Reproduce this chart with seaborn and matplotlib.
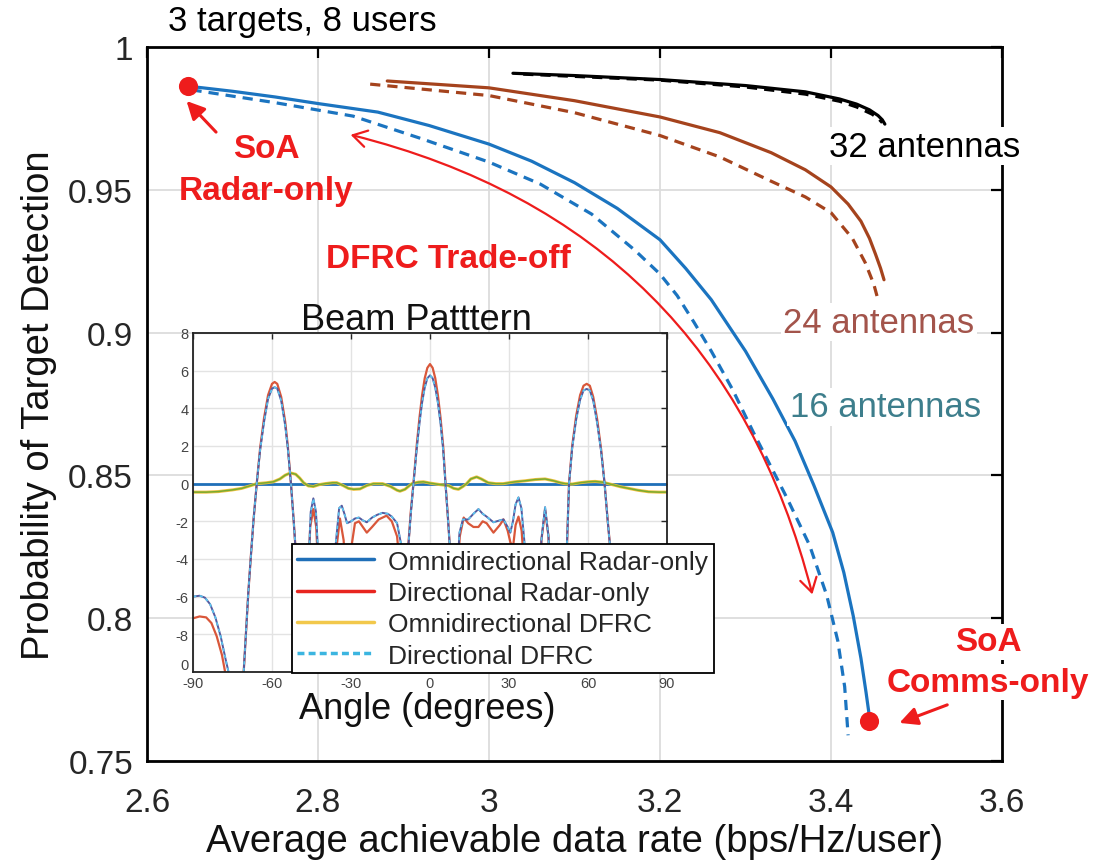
import numpy as np
import pandas as pd
import matplotlib
matplotlib.use("Agg")
import matplotlib.pyplot as plt
from matplotlib.lines import Line2D
from matplotlib.patches import FancyArrowPatch
import seaborn as sns

# ---------------- main chart data ----------------
rate16_solid = [2.648, 2.70, 2.75, 2.80, 2.87, 2.93, 3.00, 3.05, 3.10, 3.15, 3.20, 3.23, 3.26, 3.28, 3.30,
                3.332, 3.358, 3.38, 3.402, 3.415, 3.426, 3.435, 3.441, 3.445]
pd16_solid = [0.9863, 0.9845, 0.9825, 0.9802, 0.9772, 0.9725, 0.9660, 0.9600, 0.9525, 0.9435, 0.9325,
              0.9225, 0.9115, 0.9025, 0.8935, 0.8768, 0.8620, 0.8465, 0.8300, 0.8160, 0.8008, 0.7860,
              0.7740, 0.7654]
rate16_dash = [2.652, 2.75, 2.841, 2.92, 3.00, 3.06, 3.12, 3.17, 3.20, 3.22, 3.24, 3.26, 3.285, 3.309,
               3.349, 3.375, 3.395, 3.408, 3.416, 3.420]
pd16_dash = [0.9850, 0.9805, 0.9758, 0.9680, 0.9597, 0.9520, 0.9415, 0.9290, 0.9205, 0.9130, 0.9035,
             0.8935, 0.8800, 0.8652, 0.8418, 0.8255, 0.8080, 0.7920, 0.7760, 0.7590]

rate24_solid = [2.881, 3.00, 3.10, 3.20, 3.27, 3.33, 3.37, 3.40, 3.42, 3.435, 3.445, 3.452, 3.458, 3.462]
pd24_solid = [0.9881, 0.9857, 0.9812, 0.9755, 0.9700, 0.9630, 0.9570, 0.9510, 0.9450, 0.9390, 0.9330,
              0.9275, 0.9225, 0.9185]
rate24_dash = [2.861, 3.00, 3.10, 3.20, 3.27, 3.33, 3.37, 3.40, 3.425, 3.44, 3.45, 3.455]
pd24_dash = [0.9870, 0.9830, 0.9770, 0.9690, 0.9615, 0.9530, 0.9475, 0.9420, 0.9330, 0.9245, 0.9170,
             0.9115]

rate32_solid = [3.028, 3.10, 3.20, 3.30, 3.37, 3.41, 3.43, 3.445, 3.455, 3.460, 3.463]
pd32_solid = [0.9908, 0.9900, 0.9886, 0.9865, 0.9843, 0.9818, 0.9800, 0.9780, 0.9760, 0.9745, 0.9730]
rate32_dash = [3.04, 3.20, 3.30, 3.37, 3.41, 3.43, 3.448, 3.456, 3.460]
pd32_dash = [0.9905, 0.9884, 0.9860, 0.9835, 0.9810, 0.9790, 0.9765, 0.9748, 0.9735]

soa_rate = [2.648, 3.445]
soa_pd = [0.9863, 0.7640]

x_ticks = [2.6, 2.8, 3.0, 3.2, 3.4, 3.6]
x_ticklabels = ["2.6", "2.8", "3", "3.2", "3.4", "3.6"]
y_ticks = [0.75, 0.8, 0.85, 0.9, 0.95, 1.0]
y_ticklabels = ["0.75", "0.8", "0.85", "0.9", "0.95", "1"]

# ---------------- inset (beam pattern) data ----------------
ang_omni = [-90, 90]
val_omni = [0.0, 0.0]

ang_dir = [-90, -87.5, -85, -83, -81, -79, -77, -71, -70, -69, -68, -67, -65.8, -64.5, -63, -61.5,
           -60, -59, -58, -56.5, -55, -54, -52.8, -51.8, -50.8, -49.5, -48, -46.5, -45.5, -44.3,
           -43.2, -42, -40.5, -37.5, -36, -34.2, -32.8, -31.5, -30, -28.5, -27, -25.5, -24, -22,
           -19.5, -16.5, -14.5, -12.5, -11, -10.2, -9.6, -8.8, -8.2, -7.3, -6.3, -5, -4, -3, -2,
           -1, 0, 1, 2, 3, 4, 5, 5.9, 6.8, 7.6, 8.4, 9.2, 10.3, 11.3, 12.8, 14.5, 16.5, 18.4, 20,
           21.5, 24.1, 26.5, 27.9, 29.5, 30.5, 31.5, 32.5, 33.6, 34.8, 36, 37.5, 41, 42.3, 43.7,
           45, 46.5, 50.5, 51.5, 52.2, 52.8, 54, 55.5, 57, 58.3, 59.5, 60.7, 62, 63.5, 65, 66.3,
           67.5, 68.5, 70, 71.5, 90]
val_dir = [-7.15, -7.05, -7.1, -7.4, -8.1, -9.1, -10.6, -10.6, -8.2, -5.8, -3.8, -1.9, 0.0, 1.9, 3.5, 4.7,
           5.3, 5.4, 5.3, 4.6, 3.3, 2.0, 0.0, -1.9, -4.0, -7.5, -10.6, -6.0, -2.3, -1.35,
           -2.3, -6.0, -10.6, -10.6, -4.0, -1.85, -3.0, -6.0, -3.5, -2.1, -2.0, -2.3, -2.6, -2.3,
           -1.9, -1.7, -2.0, -2.8, -5.0, -7.0, -10.6, -5.5, -3.2, -1.5, 0.0, 2.1, 3.5, 4.7, 5.6,
           6.15, 6.35, 6.15, 5.6, 4.7, 3.5, 2.0, 0.0, -1.8, -3.5, -6.0, -10.6, -5.0, -2.8, -1.8, -2.1, -2.3, -2.3, -2.0,
           -2.1, -2.6, -2.2, -1.9, -2.5, -3.1, -3.4, -2.2, -1.75, -2.5, -5.0, -10.6, -10.6, -3.0, -1.4,
           -2.8, -10.6, -10.6, -5.5, -2.5, 0.0, 2.0, 3.6, 4.7, 5.2, 5.3, 5.2, 4.6, 3.4, 1.8, 0.0,
           -2.0, -3.5, -7.0, -10.6, -10.6]

ang_dfrc = [-90, -87.5, -85.5, -83.5, -81.5, -79.5, -77.5, -75.5, -71, -70, -69, -68, -67, -65.8, -64.5,
            -63, -61.5, -60, -59, -58, -56.5, -55, -54, -52.8, -51.8, -50.8, -49.5, -48, -46.3, -45.3,
            -44.3, -43.3, -42, -40.5, -37.5, -36, -34.5, -33.5, -32.5, -31.5, -30, -28.5, -27, -25.5,
            -24, -22, -20, -18, -16, -14.5, -12.5, -11, -10.2, -9.6, -8.8, -8.2, -7.3, -6.3, -5, -4,
            -3, -2, -1, 0, 1, 2, 3, 4, 5, 5.9, 6.8, 7.6, 8.4, 9.2, 10.2, 11.2, 12.5, 14.5, 16.5, 18.4,
            20, 21.5, 24.1, 26.5, 27.9, 29.5, 30.5, 31.5, 32.5, 33.6, 34.7, 35.8, 37, 38, 41, 42.3,
            43.7, 45, 46.5, 50.5, 51.5, 52.2, 52.8, 54, 55.5, 57, 58.3, 59.5, 60.7, 62, 63.5, 65,
            66.3, 67.5, 68.5, 70, 71.5, 90]
val_dfrc = [-6.0, -5.95, -6.05, -6.4, -7.1, -8.1, -9.4, -10.6, -10.6, -8.2, -5.8, -3.8, -1.9, 0.0, 1.8,
            3.3, 4.5, 5.05, 5.12, 5.05, 4.4, 3.1, 1.9, 0.0, -1.9, -4.0, -7.5, -10.6, -5.0, -1.5,
            -0.78, -1.5, -5.0, -10.6, -10.6, -3.5, -1.3, -1.17, -1.6, -2.1, -2.0, -1.85, -1.8, -1.95,
            -2.05, -1.8, -1.65, -1.55, -1.6, -1.75, -2.1, -3.2, -6.0, -10.6, -5.6, -3.3, -1.6, -0.05, 1.9, 3.2,
            4.3, 5.1, 5.6, 5.75, 5.6, 5.1, 4.3, 3.2, 1.8, -0.05, -1.8, -3.5, -6.0, -10.6, -5.0, -2.6, -1.9, -1.9, -1.6, -1.35,
            -1.6, -1.75, -2.05, -1.95, -1.9, -2.3, -2.6, -2.0, -1.1, -0.73, -1.3, -3.0, -6.0, -10.6, -10.6, -3.0,
            -1.25, -2.8, -10.6, -10.6, -5.5, -2.5, 0.0, 1.9, 3.4, 4.45, 4.95, 5.03, 4.95, 4.4, 3.2, 1.7,
            0.0, -2.0, -3.5, -7.0, -10.6, -10.6]

ang_omni_dfrc = [-90, -85, -80.4, -75, -71.5, -68, -65.8, -62, -59.5, -57, -55, -53, -51, -49.5, -48,
                 -46.2, -44.3, -42, -39.9, -37, -35.4, -33, -31, -29, -26.6, -24, -21.5, -18, -15,
                 -12.5, -11.4, -9.5, -6.9, -4.5, -2.5, 0, 3.8, 7, 9, 10.8, 12.5, 13.9, 15.5, 17.7,
                 19.5, 22.1, 25, 27.8, 30, 32.3, 36, 40, 43.7, 47, 49.5, 51.3, 54, 57, 60, 62.7,
                 65.5, 67.8, 70, 72.5, 75.4, 79, 83, 87, 90]
val_omni_dfrc = [-0.45, -0.45, -0.42, -0.33, -0.25, -0.1, 0.0, 0.05, 0.1, 0.25, 0.45, 0.57, 0.5, 0.3, 0.05,
                 -0.12, -0.15, -0.05, 0.0, 0.05, 0.05, -0.1, -0.25, -0.3, -0.28, -0.1, 0.0, 0.0, -0.15,
                 -0.35, -0.4, -0.3, 0.0, 0.08, 0.1, 0.03, -0.05, -0.1, -0.25, -0.3, -0.15, 0.0, 0.25, 0.36,
                 0.25, 0.05, 0.0, 0.0, 0.05, 0.1, 0.15, 0.22, 0.25, 0.15, 0.05, 0.0, -0.02, 0.05, 0.1, 0.12,
                 0.08, 0.0, -0.08, -0.17, -0.25, -0.35, -0.43, -0.45, -0.45]

in_x_ticks = [-90, -60, -30, 0, 30, 60, 90]
in_y_ticks = [-10, -8, -6, -4, -2, 0, 2, 4, 6, 8]
in_y_ticklabels = ["0", "-8", "-6", "-4", "-2", "0", "2", "4", "6", "8"]
legend_labels = ["Omnidirectional Radar-only", "Directional Radar-only",
                 "Omnidirectional DFRC", "Directional DFRC"]

# ---------------- styling ----------------
sns.set_theme(style="white")
plt.rcParams["font.family"] = ["Liberation Sans", "DejaVu Sans"]
plt.rcParams["axes.unicode_minus"] = False

BLUE = "#1b74c0"
BROWN = "#a5431d"
RED = "#ee1c1c"
W, H = 1096, 862

fig = plt.figure(figsize=(W / 100, H / 100), dpi=100)
ax = fig.add_axes([147 / W, 1 - 762 / H, (1002 - 147) / W, (762 - 48) / H])


def line(a, x, y, **kw):
    df = pd.DataFrame({"x": x, "y": y})
    sns.lineplot(data=df, x="x", y="y", ax=a, estimator=None, sort=False, **kw)


lw = 2.3
dash = (0, (3.2, 2.2))
line(ax, rate16_solid, pd16_solid, color=BLUE, linewidth=lw)
line(ax, rate16_dash, pd16_dash, color=BLUE, linewidth=lw, linestyle=dash)
line(ax, rate24_solid, pd24_solid, color=BROWN, linewidth=lw)
line(ax, rate24_dash, pd24_dash, color=BROWN, linewidth=lw, linestyle=dash)
line(ax, rate32_solid, pd32_solid, color="black", linewidth=lw)
line(ax, rate32_dash, pd32_dash, color="black", linewidth=lw, linestyle=dash)
sns.scatterplot(x=soa_rate, y=soa_pd, ax=ax, color=RED, s=190, edgecolor=RED, linewidth=0, zorder=5)

ax.set_xlim(2.6, 3.6)
ax.set_ylim(0.75, 1.0)
ax.set_xticks(x_ticks)
ax.set_xticklabels(x_ticklabels)
ax.set_yticks(y_ticks)
ax.set_yticklabels(y_ticklabels)
ax.grid(True, color="#dcdcdc", linewidth=1.3)
for s in ax.spines.values():
    s.set_color("black")
    s.set_linewidth(2.0)
ax.tick_params(direction="in", length=8, width=1.6, top=True, right=True,
               labelsize=24, colors="black", labelcolor="#262626")
ax.tick_params(axis="x", pad=19)
ax.tick_params(axis="y", pad=10)
ax.set_xlabel("Average achievable data rate (bps/Hz/user)", fontsize=27.5, color="#111111", labelpad=3)
ax.set_ylabel("Probability of Target Detection", fontsize=27.5, color="#111111", labelpad=8)

# annotations
tb = dict(facecolor="white", edgecolor="none", pad=2)
ax.text(3.51, 0.9653, "32 antennas", fontsize=25, color="black", ha="center", va="center", bbox=tb, zorder=6)
ax.text(3.456, 0.9037, "24 antennas", fontsize=25, color="#a3544b", ha="center", va="center", bbox=tb, zorder=6)
ax.text(3.464, 0.874, "16 antennas", fontsize=25, color="#3d7e8c", ha="center", va="center", bbox=tb, zorder=6)
ax.text(2.953, 0.9258, "DFRC Trade-off", fontsize=24, color=RED, fontweight="bold", ha="center", va="center")
ax.text(2.74, 0.9643, "SoA", fontsize=24, color=RED, fontweight="bold", ha="center", va="center")
ax.text(2.739, 0.9496, "Radar-only", fontsize=24, color=RED, fontweight="bold", ha="center", va="center")
ax.text(3.5836, 0.7917, "SoA", fontsize=24, color=RED, fontweight="bold", ha="center", va="center", bbox=tb, zorder=6)
ax.text(3.5836, 0.7776, "Comms-only", fontsize=24, color=RED, fontweight="bold", ha="center", va="center", bbox=tb, zorder=6)

ax.annotate("", xy=(2.644, 0.9818), xytext=(2.683, 0.9695),
            arrowprops=dict(arrowstyle="-|>,head_length=0.9,head_width=0.45", color=RED, lw=2.2))
ax.annotate("", xy=(3.477, 0.763), xytext=(3.539, 0.770), annotation_clip=False,
            arrowprops=dict(arrowstyle="-|>,head_length=0.9,head_width=0.45", color=RED, lw=2.2))
arr = FancyArrowPatch((2.835, 0.9695), (3.379, 0.8074), arrowstyle="<->,head_length=10,head_width=6",
                      connectionstyle="arc3,rad=-0.3", color=RED, lw=1.6, zorder=4)
ax.add_patch(arr)

fig.text(302 / W, 1 - 22 / H, "3 targets, 8 users", fontsize=25, color="black", ha="center", va="center")

# ---------------- inset ----------------
ax_in = fig.add_axes([193 / W, 1 - 673 / H, (667 - 193) / W, (673 - 334) / H], zorder=10)
ax_in.set_facecolor("white")
line(ax_in, ang_omni, val_omni, color="#1f6fb8", linewidth=2.0)
line(ax_in, ang_dir, val_dir, color="#d9573a", linewidth=1.6)
line(ax_in, ang_omni_dfrc, val_omni_dfrc, color="#f0c040", linewidth=2.2)
line(ax_in, ang_omni_dfrc, val_omni_dfrc, color="#78ab30", linewidth=1.1)
line(ax_in, ang_dfrc, val_dfrc, color="#55599e", linewidth=1.4)
line(ax_in, ang_dfrc, val_dfrc, color="#5cc6f0", linewidth=1.2, linestyle=(0, (2, 2)))

ax_in.set_xlim(-90, 90)
ax_in.set_ylim(-10, 8)
ax_in.set_xticks(in_x_ticks)
ax_in.set_yticks(in_y_ticks)
ax_in.set_yticklabels(in_y_ticklabels)
ax_in.get_yticklabels()[0].set_verticalalignment("bottom")
ax_in.grid(True, color="#e3e3e3", linewidth=1.0)
for s in ax_in.spines.values():
    s.set_color("#222222")
    s.set_linewidth(1.3)
ax_in.tick_params(direction="in", length=4, width=1, top=True, right=True,
                  labelsize=10.5, labelcolor="#444444")
ax_in.tick_params(axis="x", pad=3)
ax_in.tick_params(axis="y", pad=3)
ax_in.set_xlabel("Angle (degrees)", fontsize=26, color="#111111")
ax_in.xaxis.set_label_coords((427 - 193) / 474, -0.057)
ax_in.set_ylabel("")
ax_in.set_title("Beam Patttern", fontsize=26, color="#111111", pad=3, x=(416 - 193) / 474)

handles = [Line2D([], [], color="#1f6fb8", lw=2.5),
           Line2D([], [], color="#e8251f", lw=2.5),
           Line2D([], [], color="#f2c84b", lw=2.5),
           Line2D([], [], color="#3bb5e0", lw=2.5, linestyle=(0, (2, 1.2)))]
leg = ax_in.legend(handles, legend_labels, loc="lower left",
                   bbox_to_anchor=(292 / W, 1 - 674 / H), bbox_transform=fig.transFigure,
                   fontsize=19, frameon=True, fancybox=False, framealpha=1,
                   edgecolor="black", borderpad=0.2, labelspacing=0.28,
                   handlelength=2.9, handletextpad=0.55, borderaxespad=0)
leg.get_frame().set_linewidth(1.3)

fig.savefig("out.png", dpi=100)
